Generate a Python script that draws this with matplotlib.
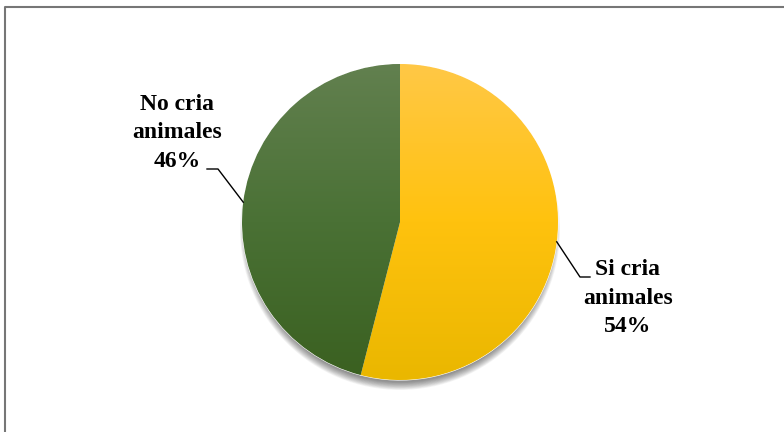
import matplotlib.pyplot as plt
import numpy as np
from matplotlib.colors import LinearSegmentedColormap

# data
labels = ['Si cria\nanimales', 'No cria\nanimales']
values = [54, 46]
# gradient colours (top, middle, bottom) per slice
grad_colors = [['#FFC846', '#FFC20E', '#EAB700'],
               ['#62804F', '#4A7135', '#3A6020']]

W, H = 784, 432
fig = plt.figure(figsize=(W / 100, H / 100), dpi=100)
ax = fig.add_axes([0, 0, 1, 1])

cx, cy, r = 400, H - 222, 158

# soft shadow under the pie (offset downward)
for i in range(12):
    c = plt.Circle((cx, cy - 8), r + 2 - i * 0.7, color='black',
                   alpha=0.045, lw=0, zorder=1)
    ax.add_patch(c)

wedges, _ = ax.pie(values, center=(cx, cy), radius=r, startangle=90,
                   counterclock=False, colors=[g[1] for g in grad_colors],
                   wedgeprops=dict(linewidth=0.8, edgecolor='white'))
for w in wedges:
    w.set_zorder(2)

# vertical gradient fill clipped to each wedge
grad = np.linspace(0, 1, 256).reshape(-1, 1)
for w, gc in zip(wedges, grad_colors):
    cmap = LinearSegmentedColormap.from_list('g', gc)
    im = ax.imshow(grad, cmap=cmap, aspect='auto', origin='upper',
                   extent=(cx - r, cx + r, cy - r, cy + r), zorder=3)
    im.set_clip_path(w)

# leader lines and labels
font = dict(family='Liberation Serif', fontsize=17, fontweight='bold',
            ha='center', va='center', linespacing=1.45)
for w, lab, v in zip(wedges, labels, values):
    ang = np.deg2rad((w.theta1 + w.theta2) / 2)
    px, py = cx + r * np.cos(ang), cy + r * np.sin(ang)
    if np.cos(ang) > 0:
        ax.plot([px, 580, 590], [py, H - 277, H - 277], color='black',
                lw=1, zorder=4)
        ax.text(628, H - 298, '%s\n%d%%' % (lab, v), **font)
    else:
        ax.plot([px, 218, 207], [py, H - 169, H - 169], color='black',
                lw=1, zorder=4)
        ax.text(177, H - 133, '%s\n%d%%' % (lab, v), **font)

# chart area border (extends beyond image on right/bottom)
ax.plot([5, 5, W + 5], [-5, H - 7, H - 7], color='#767676', lw=1.5,
        zorder=5)

ax.set_xlim(0, W)
ax.set_ylim(0, H)
ax.set_aspect('auto')
ax.axis('off')
fig.savefig('out.png', dpi=100)
